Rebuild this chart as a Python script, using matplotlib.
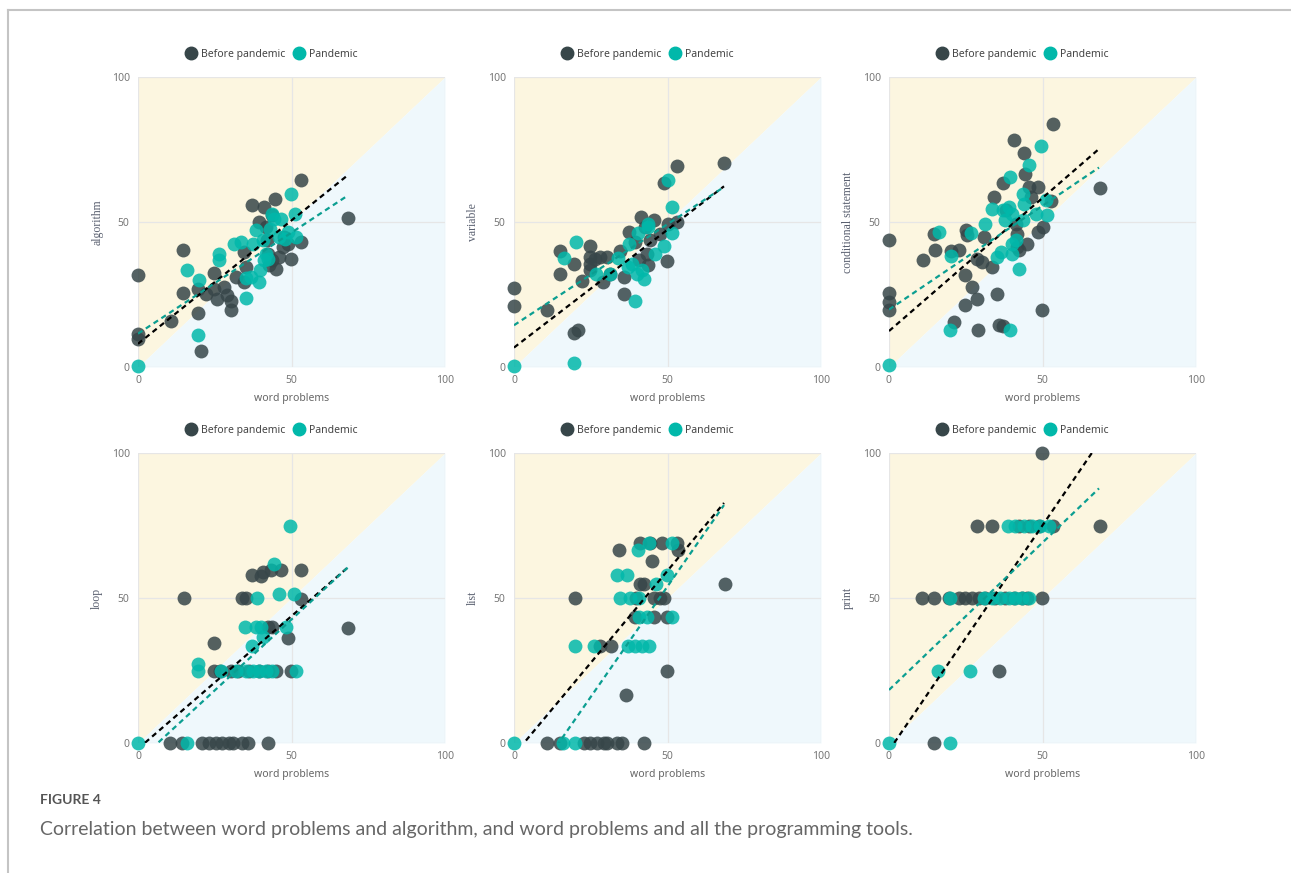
import numpy as np
import matplotlib
matplotlib.use("Agg")
import matplotlib.pyplot as plt
from matplotlib.lines import Line2D

# ── data ──────────────────────────────────────────────────────
titles = ["algorithm", "variable", "conditional statement", "loop", "list", "print"]
x_label = "word problems"
series_names = ["Before pandemic", "Pandemic"]

algo_before_x = [0, 0, 0, 10.6, 14.6, 14.6, 19.6, 19.6, 20.4, 22.2, 24.8, 24.8, 25.8, 28, 29.1,
                 30.2, 30.2, 31.8, 34.6, 35.1, 34.6, 37.1, 40.9, 39.5, 42.0, 42.2, 42.7, 44.7,
                 44.9, 43.6, 46, 47.1, 47.7, 48.7, 49.8, 41.7, 43.8, 53.1, 53.1, 68.4]
algo_before_y = [31.6, 11.5, 9.8, 15.7, 40.2, 25.6, 27.0, 18.6, 5.5, 25.1, 32.5, 27, 23.6, 27.6, 24.7,
                 19.8, 22.6, 31, 29.3, 34.5, 39.7, 55.7, 55.2, 50, 43.7, 39.1, 35.1, 58,
                 33.9, 36.8, 37.9, 41.4, 44.8, 42.5, 37.4, 48.3, 52.3, 64.4, 43.1, 51.4]
algo_pand_x = [0, 16, 19.8, 19.6, 26.4, 26.4, 31.3, 33.5, 35.1, 35.3, 36.7, 37.5, 38.4, 39.3, 39.6,
               40.6, 41.7, 42.5, 41.1, 43.6, 44.4, 46.6, 43, 46, 48.7, 49.8, 51.3, 51.5, 48]
algo_pand_y = [0.2, 33.3, 30.1, 10.9, 38.9, 36.8, 42.3, 43.1, 30.8, 23.9, 31, 42.3, 47.1, 29.3, 33.3,
               43.7, 39.1, 37.4, 36.8, 52.9, 51.1, 51.1, 47.7, 44.8, 46.6, 59.8, 52.9, 44.8, 44.3]

var_before_x = [0, 0, 10.9, 14.9, 14.9, 19.6, 19.6, 20.9, 22.2, 24.8, 24.8, 24.8, 24.8, 26.4, 28,
                29.1, 30.2, 31.3, 34.6, 35.7, 35.7, 37.3, 39.5, 40.6, 41.4, 42.7, 43.3, 43.6,
                44.4, 45.5, 47.7, 48.7, 49.8, 50.2, 53.1, 53.1, 68.4]
var_before_y = [27.4, 21, 19.5, 40, 32, 35.4, 11.7, 12.6, 29.7, 41.7, 37.9, 35.4, 33.3, 37.4, 37.9,
                29.3, 37.9, 32.2, 40, 31, 25.1, 46.6, 43.1, 36.8, 51.7, 48.3, 39.1, 35.1,
                43.7, 50.6, 46, 63.4, 36.6, 49.4, 50, 69.2, 70.3]
var_pand_x = [0, 16.4, 20.1, 19.6, 26.6, 31.3, 34, 37.3, 37.1, 38.4, 39.3, 40.3, 40, 42.2, 41.7,
              43.8, 43.6, 46, 48.7, 50.2, 51.5, 51.5]
var_pand_y = [0.2, 37.7, 43.1, 1.4, 32, 32.2, 37.7, 42.3, 34.5, 35.4, 22.8, 46.2, 32, 30.5, 33.3,
              48.3, 49.4, 39.1, 41.6, 64.4, 55.2, 46.2]

cond_before_x = [0, 0, 0, 0, 11.1, 14.7, 15, 20.1, 21.2, 22.8, 24.8, 24.8, 25, 25.5, 27, 28.8,
                 28.8, 29.1, 30.4, 31, 33.7, 34.2, 35.3, 35.9, 37, 37.2, 38, 40.8, 41.3, 41.8,
                 41.8, 42.4, 44, 44.3, 45.1, 45.7, 46.2, 48.4, 48.4, 50, 49.8, 53.3, 52.7, 68.7]
cond_before_y = [43.9, 25.5, 22.4, 19.8, 37, 45.7, 40.2, 40, 15.5, 40.2, 31.6, 21.3, 47.1, 45.4, 27.6,
                 37.4, 23.6, 12.6, 36.2, 44.8, 34.5, 58.6, 25.1, 14.4, 14, 63.4, 54, 78.4, 49.4, 46,
                 41.4, 40.2, 73.8, 66.7, 42.5, 62.1, 58.6, 62.1, 46.6, 48.3, 19.5, 83.7, 57.2, 61.8]
cond_pand_x = [0, 16.3, 20.1, 19.8, 26.6, 31.3, 33.7, 35.3, 36.4, 37.2, 39.3, 39.1, 37.8, 40.2, 40,
               40.2, 41.3, 42.2, 39.3, 43.5, 44, 43.5, 45.7, 47.8, 49.5, 51.3, 51.6]
cond_pand_y = [0.6, 46.6, 38.2, 12.6, 46.2, 49.4, 54.6, 37.9, 39.7, 54, 65.5, 55.2, 50.6, 52.9, 39.1,
               42.3, 43.7, 33.9, 12.6, 59.8, 56.3, 50.6, 69.5, 52.6, 76.1, 57.5, 52.3]

loop_before_x = [10.3, 14.4, 20.9, 23.1, 25.3, 27.5, 29.7, 31, 34, 35.7, 42.2,
                 24.8, 26.6, 30.2, 32.7, 36.2, 39.5, 42.2, 44.9, 49.8,
                 24.8, 14.9, 33.8, 35.1, 48.7, 37.1, 40.6, 40, 43.3, 46.6, 43.8, 42.2, 53.1, 53.1, 68.4]
loop_before_y = [0, 0, 0, 0, 0, 0, 0, 0, 0, 0, 0,
                 25, 25, 25, 25, 25, 25, 25, 25, 25,
                 34.5, 50, 50, 50, 36.1, 58, 59.1, 57.7, 59.8, 59.8, 40, 40, 59.8, 49.7, 39.7]
loop_pand_x = [0, 16, 19.6, 19.6, 26.9, 31.8, 35.1, 37.3, 39.5, 41.7, 43.8, 51.5,
               34.9, 38.4, 40, 48.2, 37.1, 40.6, 38.6, 45.8, 50.9, 44.4, 49.6]
loop_pand_y = [0, 0, 27.2, 25, 25, 25, 25, 25, 25, 25, 25, 25,
               40, 40, 40, 40, 33.3, 36.4, 50, 51.4, 51.4, 61.7, 74.7]

list_before_x = [10.9, 15, 22.7, 24.8, 27, 29.2, 30.3, 33.6, 35.2, 42.3,
                 19.9, 34.1, 36.6, 49.9, 68.6, 28.1, 31.6, 41.2, 44.4, 48.3, 53.2, 53.4, 44.9,
                 41.2, 42.3, 39.9, 45.5, 47.7, 48.8, 39.5, 45.5, 49.7]
list_before_y = [0, 0, 0, 0, 0, 0, 0, 0, 0, 0,
                 50, 66.4, 16.6, 25, 55, 33.3, 33.3, 69, 69, 69, 69, 66.4, 62.7,
                 55, 55, 50, 50, 50, 50, 43.5, 43.5, 43.5]
list_pand_x = [0, 15.9, 19.9, 19.9, 26.1, 37, 39.5, 41.7, 43.9, 33.6, 36.8, 34.6, 37.9, 40.6,
               40.6, 43.4, 51.5, 40.3, 43.9, 51.5, 46.1, 49.9]
list_pand_y = [0, 0, 0, 33.3, 33.3, 33.3, 33.3, 33.3, 33.3, 58.1, 58.1, 50, 50, 50,
               43.5, 43.5, 43.5, 66.4, 69, 69, 55, 58.1]

print_before_x = [14.8, 10.7, 14.8, 19.4, 22.7, 24.8, 27, 29.2, 31.4, 34.6, 37.9, 40.6, 43.4, 45,
                  49.7, 28.6, 33.6, 42.3, 45.5, 48.8, 53.4, 49.7, 35.7, 68.6]
print_before_y = [0, 50, 50, 50, 50, 50, 50, 50, 50, 50, 50, 50, 50, 50,
                  50, 75, 75, 75, 75, 75, 75, 100, 25, 75]
print_pand_x = [0, 19.9, 16.1, 26.5, 19.9, 30.8, 33.6, 36.3, 39, 41.2, 43.4, 45.5,
                38.8, 41.2, 43.9, 46.6, 49.3, 52.1]
print_pand_y = [0, 0, 25, 25, 50, 50, 50, 50, 50, 50, 50, 50,
                75, 75, 75, 75, 75, 75]

# trend lines: intercept, slope (before, pandemic) per panel
trend_before_b = [8.0, 6.7, 12.4, -2.0, -4.1, -2.6]
trend_before_m = [0.851, 0.813, 0.918, 0.915, 1.27, 1.553]
trend_pand_b = [11.5, 14.4, 19.8, -6.3, -22.2, 18.3]
trend_pand_m = [0.697, 0.697, 0.716, 0.978, 1.524, 1.016]
trend_x_end = 68.4

caption_head = "FIGURE 4"
caption_text = ("Correlation between word problems and algorithm, and word problems "
                "and all the programming tools.")

panels_x_before = [algo_before_x, var_before_x, cond_before_x, loop_before_x, list_before_x, print_before_x]
panels_y_before = [algo_before_y, var_before_y, cond_before_y, loop_before_y, list_before_y, print_before_y]
panels_x_pand = [algo_pand_x, var_pand_x, cond_pand_x, loop_pand_x, list_pand_x, print_pand_x]
panels_y_pand = [algo_pand_y, var_pand_y, cond_pand_y, loop_pand_y, list_pand_y, print_pand_y]

# ── styling ───────────────────────────────────────────────────
dark = "#374649"
teal = "#01B8AA"
beige = "#fcf6e0"
pale_blue = "#eff8fc"
tick_color = "#777777"

fig = plt.figure(figsize=(12.91, 8.73), dpi=100)

lefts = [138, 514, 889]
tops = [77, 453]
W, H = 1291, 873
aw, ah = 307, 290

for i in range(6):
    r, c = divmod(i, 3)
    ax = fig.add_axes([lefts[c] / W, 1 - (tops[r] + ah) / H, aw / W, ah / H])
    ax.set_xlim(0, 100)
    ax.set_ylim(0, 100)

    # background triangles above / below the diagonal
    ax.fill_between([0, 100], [0, 100], [100, 100], color=beige, lw=0, zorder=0)
    ax.fill_between([0, 100], [0, 0], [0, 100], color=pale_blue, lw=0, zorder=0)

    ax.set_xticks([0, 50, 100])
    ax.set_yticks([0, 50, 100])
    ax.grid(True, color="#e6e6e6", lw=0.9, zorder=1)
    for s in ax.spines.values():
        s.set_visible(False)
    ax.tick_params(length=0, colors=tick_color, labelsize=7.5, pad=6)
    for lab in ax.get_xticklabels() + ax.get_yticklabels():
        lab.set_fontfamily("Noto Sans")

    ax.scatter(panels_x_before[i], panels_y_before[i], s=100, color=dark, alpha=0.85,
               lw=0, zorder=3, clip_on=False, label=series_names[0])
    ax.scatter(panels_x_pand[i], panels_y_pand[i], s=100, color=teal, alpha=0.85,
               lw=0, zorder=3, clip_on=False, label=series_names[1])

    tx = np.array([0, trend_x_end])
    ax.plot(tx, trend_before_b[i] + trend_before_m[i] * tx, color="black",
            lw=1.6, dashes=(2.4, 1.8), zorder=4)
    ax.plot(tx, trend_pand_b[i] + trend_pand_m[i] * tx, color="#0b9e91",
            lw=1.6, dashes=(2.4, 1.8), zorder=4)

    ax.set_xlabel(x_label, fontsize=7.5, color="#666666", family="Noto Sans", labelpad=5)
    ax.set_ylabel(titles[i], fontsize=8.5, color="#5a6070", family="Liberation Serif", labelpad=6)

    handles = [Line2D([], [], marker="o", ls="", color=dark, markersize=9),
               Line2D([], [], marker="o", ls="", color=teal, markersize=9)]
    leg = ax.legend(handles, series_names, loc="center", bbox_to_anchor=(0.427, 1.078),
                    ncol=2, frameon=False, handletextpad=0.0, columnspacing=0.3,
                    borderaxespad=0, prop={"family": "Noto Sans", "size": 7.5})
    for t in leg.get_texts():
        t.set_color("#444444")

# figure frame (left and top edges)
fig.add_artist(Line2D([8 / W, 8 / W], [0, 1 - 10 / H], color="#c4c4c4", lw=1.5))
fig.add_artist(Line2D([8 / W, 1], [1 - 10 / H, 1 - 10 / H], color="#c4c4c4", lw=1.5))

fig.text(40 / W, 1 - 800 / H, caption_head, fontsize=10, fontweight="bold",
         color="#555555", family="Lato", va="center", ha="left")
fig.text(40 / W, 1 - 830 / H, caption_text, fontsize=14, color="#666666",
         family="Lato", va="center", ha="left")

fig.savefig("out.png", dpi=100)
